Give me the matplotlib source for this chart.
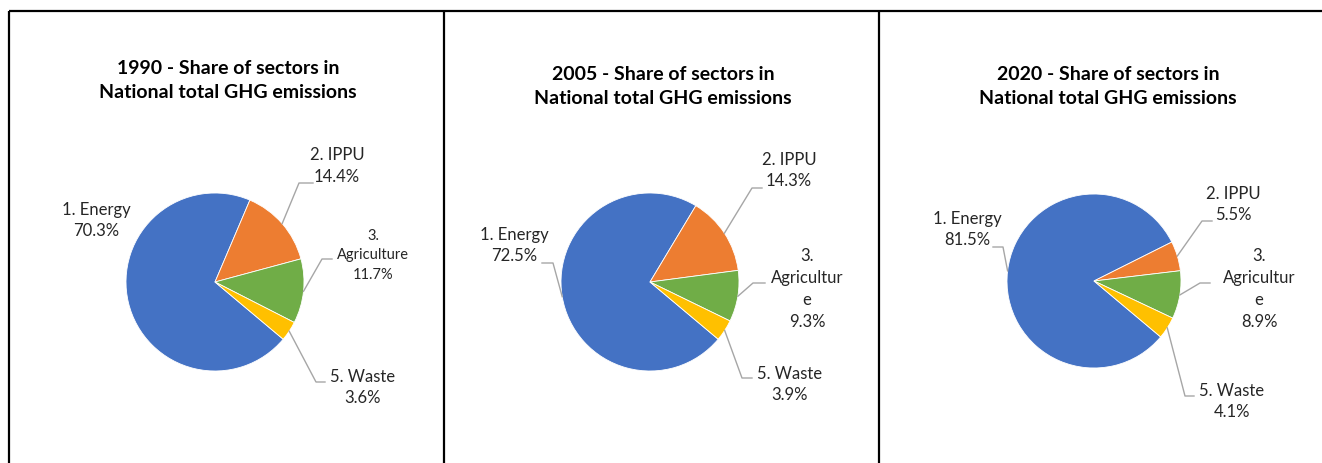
import numpy as np
import matplotlib
matplotlib.use('Agg')
import matplotlib.pyplot as plt

# data
years = ['1990', '2005', '2020']
sectors = ['1. Energy', '2. IPPU', '3. Agriculture', '5. Waste']
share_1990 = [70.3, 14.4, 11.7, 3.6]
share_2005 = [72.5, 14.3, 9.3, 3.9]
share_2020 = [81.5, 5.5, 8.9, 4.1]
# how Excel wrapped the sector names in each panel
names_1990 = ['1. Energy', '2. IPPU', '3.\nAgriculture', '5. Waste']
names_2005 = ['1. Energy', '2. IPPU', '3.\nAgricultur\ne', '5. Waste']
names_2020 = ['1. Energy', '2. IPPU', '3.\nAgricultur\ne', '5. Waste']

colors = ['#4472C4', '#ED7D31', '#70AD47', '#FFC000']
W, H = 1322, 463

# layout, in pixels from the top-left corner
panels = [
    dict(center=(215, 282), radius=89, title=(228, 80),
         labels=[(96, 220.5), (337, 166), (373, 255.5), (363, 387.5)],
         leaders=[None, (313, 299, 183), (332, 322, 259), (325, 316, 382)],
         small=[False, False, True, False]),
    dict(center=(650, 282), radius=89, title=(663, 86),
         labels=[(514, 245.5), (789, 170.5), (807, 289), (790, 384.5)],
         leaders=[(542, 553, 263), (762, 752, 188), (765, 753, 283), (752, 742, 378)],
         small=[False] * 4),
    dict(center=(1094, 281), radius=87, title=(1108, 87),
         labels=[(967, 229.5), (1233, 204.5), (1259, 289), (1232, 401.5)],
         leaders=[(993, 1003, 247), (1212, 1202, 221), (1210, 1200, 283), (1194, 1185, 396)],
         small=[False] * 4),
]

plt.rcParams['font.family'] = ['Lato', 'DejaVu Sans']

fig = plt.figure(figsize=(W / 100, H / 100), dpi=100)
ax = fig.add_axes([0, 0, 1, 1])


def fy(y):
    return H - y


for year, values, names, p in zip(years, [share_1990, share_2005, share_2020],
                                   [names_1990, names_2005, names_2020], panels):
    cx, cy = p['center']
    r = p['radius']
    wedges, _ = ax.pie(values, colors=colors, startangle=-40, counterclock=False,
                       center=(cx, fy(cy)), radius=r, frame=True,
                       wedgeprops=dict(edgecolor='white', linewidth=0.6))

    tx, ty = p['title']
    ax.text(tx, fy(ty), f'{year} - Share of sectors in\nNational total GHG emissions',
            ha='center', va='center', fontsize=14, fontweight='bold',
            linespacing=1.5, color='black')

    for w, v, name, (lx, ly), lead, small in zip(wedges, values, names,
                                                   p['labels'], p['leaders'], p['small']):
        ax.text(lx, fy(ly), f'{name}\n{v:.1f}%', ha='center', va='center',
                fontsize=10.5 if small else 12, linespacing=1.5 if small else 1.45,
                color='#262626')
        if lead is not None:
            mid = np.deg2rad((w.theta1 + w.theta2) / 2)
            px = cx + r * np.cos(mid)
            py = fy(cy) + r * np.sin(mid)
            x0, x1, yy = lead
            ax.plot([x0, x1, px], [fy(yy), fy(yy), py], color='#A6A6A6', lw=1.0)

# frame lines
ax.plot([9, W], [fy(11), fy(11)], color='black', lw=1.6, solid_capstyle='butt')
for x in [9, 444, 879]:
    ax.plot([x, x], [fy(11), 0], color='black', lw=1.6, solid_capstyle='butt')

ax.set_xlim(0, W)
ax.set_ylim(0, H)
ax.set_aspect('auto')
ax.axis('off')

fig.savefig('out.png', dpi=100)
